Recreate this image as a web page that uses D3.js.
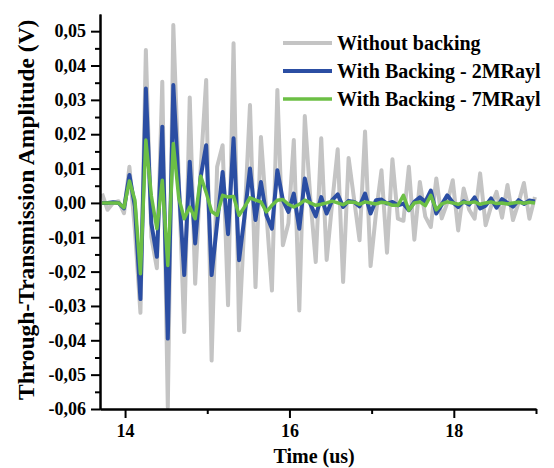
<!DOCTYPE html>
<html>
<head>
<meta charset="utf-8">
<script src="https://cdn.jsdelivr.net/npm/d3@7"></script>
<style>
  body { margin: 0; background: #fff; }
  svg text { font-family: "Liberation Serif", "Times New Roman", serif; font-weight: bold; }
</style>
</head>
<body>
<div id="chart"></div>
<script>
// sample times (us)
const times = [13.720, 13.787, 13.853, 13.920, 13.987, 14.053, 14.120, 14.187, 14.253, 14.320,
  14.387, 14.453, 14.520, 14.587, 14.653, 14.720, 14.787, 14.853, 14.920, 14.987,
  15.053, 15.120, 15.187, 15.253, 15.320, 15.387, 15.453, 15.520, 15.587, 15.653,
  15.720, 15.787, 15.853, 15.920, 15.987, 16.053, 16.120, 16.187, 16.253, 16.320,
  16.387, 16.453, 16.520, 16.587, 16.653, 16.720, 16.787, 16.853, 16.920, 16.987,
  17.053, 17.120, 17.187, 17.253, 17.320, 17.387, 17.453, 17.520, 17.587, 17.653,
  17.720, 17.787, 17.853, 17.920, 17.987, 18.053, 18.120, 18.187, 18.253, 18.320,
  18.387, 18.453, 18.520, 18.587, 18.653, 18.720, 18.787, 18.853, 18.920, 18.987];

// Without backing
const noBacking = [0.0027, -0.002, 0.0, 0.0005, -0.003, 0.0105, -0.008, -0.032, 0.0445, -0.010,
  -0.019, 0.0353, -0.0595, 0.0518, 0.007, -0.0376, 0.0307, -0.0235, 0.010, 0.0358,
  -0.0459, 0.0105, 0.0168, -0.0298, 0.0465, -0.0371, -0.005, 0.0285, -0.0245, 0.0192,
  -0.003, -0.0255, 0.0329, -0.0123, -0.006, 0.0183, -0.0313, 0.0253, 0.0017, -0.0172,
  0.0188, -0.0166, 0.000, 0.0156, -0.023, 0.0131, 0.001, -0.0109, 0.0208, -0.0184,
  -0.003, 0.0095, -0.0145, 0.0127, -0.0046, -0.0052, 0.0105, -0.0107, 0.0061, -0.004,
  -0.007, 0.0071, -0.0045, 0.0, 0.0066, -0.008, 0.0042, -0.002, -0.0046, 0.0086,
  -0.0065, -0.001, 0.0032, -0.0043, 0.0052, -0.005, 0.0, 0.0058, -0.0046, 0.0017];

// With backing 2MRayl
const backing2 = [0.0, 0.0, 0.0002, 0.0, -0.0016, 0.0081, -0.001, -0.028, 0.0333, -0.006,
  -0.0157, 0.0222, -0.0395, 0.0343, 0.005, -0.021, 0.012, -0.0118, 0.0076, 0.0168,
  -0.021, -0.006, 0.009, -0.0091, 0.0188, -0.0167, -0.004, 0.010, -0.005, 0.0061,
  -0.0036, -0.0075, 0.0095, 0.0008, -0.0026, 0.0027, -0.0075, 0.0071, -0.0002, -0.0039,
  0.0017, -0.0031, 0.0008, 0.0025, -0.0012, 0.0006, 0.0003, -0.001, 0.0027, -0.0031,
  0.0008, 0.001, -0.0002, 0.0003, -0.0007, -0.0002, -0.0021, 0.0003, 0.0016, 0.0003,
  0.0036, -0.0031, -0.0005, 0.0022, 0.0002, -0.0012, 0.0005, -0.0005, 0.0016, -0.0016,
  -0.0008, 0.0013, -0.0014, 0.0011, 0.0, -0.0011, 0.0008, -0.0003, 0.0007, 0.0004];

// With backing 7MRayl
const backing7 = [0.0, 0.0, 0.0, 0.0, -0.0014, 0.0064, 0.0008, -0.0206, 0.0183, 0.002,
  -0.0075, 0.0066, -0.0182, 0.0173, 0.0015, -0.0046, -0.0012, -0.0046, 0.0078, 0.003,
  -0.0025, -0.0036, 0.0022, 0.0017, 0.0019, -0.0036, -0.0012, 0.0015, 0.0008, 0.0003,
  -0.0026, -0.0007, 0.0008, 0.001, -0.0004, -0.0012, -0.0004, 0.0008, 0.0, -0.0007,
  -0.0004, 0.0, 0.0005, 0.0, -0.0005, 0.0003, 0.0002, -0.0004, 0.0003, 0.0,
  -0.0003, 0.0002, 0.0, -0.0007, -0.0007, 0.0022, -0.0021, 0.0, 0.0003, -0.0008,
  0.0022, -0.002, -0.0003, 0.0003, 0.0, -0.0004, 0.0002, 0.0, 0.0003, -0.0004,
  0.0, 0.0003, -0.0002, 0.0, -0.0003, 0.0, 0.0002, -0.0001, 0.0002, 0.0];

const seriesNames = ["Without backing", "With Backing - 2MRayl", "With Backing - 7MRayl"];
const seriesColors = ["#c4c4c4", "#2b4ea3", "#6cbf45"];
const seriesValues = [noBacking, backing2, backing7];

const xTicks = [14, 16, 18];
const xMinorTicks = [15, 17, 19];
const yTicks = [-0.06, -0.05, -0.04, -0.03, -0.02, -0.01, 0, 0.01, 0.02, 0.03, 0.04, 0.05];
const yMinorTicks = [-0.055, -0.045, -0.035, -0.025, -0.015, -0.005, 0.005, 0.015, 0.025, 0.035, 0.045];

const W = 554, H = 468;
const margin = { top: 14, right: 18, bottom: 59, left: 100 },
    width = W - margin.left - margin.right,
    height = H - margin.top - margin.bottom;

const svg = d3.select("#chart")
    .append("svg")
    .attr("width", W)
    .attr("height", H)
    .append("g")
    .attr("transform", `translate(${margin.left},${margin.top})`);

const x = d3.scaleLinear().domain([13.695, 19]).range([0, width]);
const y = d3.scaleLinear().domain([-0.06, 0.055]).range([height, 0]);

const fmt = v => d3.format(".2f")(v).replace("−", "-").replace(".", ",");

// lines
const line = d3.line().x((d, i) => x(times[i])).y(d => y(d));
seriesValues.forEach(function (vals, s) {
    svg.append("path")
        .datum(vals)
        .attr("fill", "none")
        .attr("stroke", seriesColors[s])
        .attr("stroke-width", s == 2 ? 3.5 : 4)
        .attr("stroke-linejoin", "round")
        .attr("d", line);
});

// x axis
svg.append("g")
    .attr("transform", `translate(0,${height})`)
    .call(d3.axisBottom(x).tickValues(xTicks).tickSize(9).tickSizeOuter(0).tickPadding(6).tickFormat(d3.format("d")));
svg.append("g")
    .attr("transform", `translate(0,${height})`)
    .call(d3.axisBottom(x).tickValues(xMinorTicks).tickSize(5).tickSizeOuter(0).tickFormat(""));

// y axis
svg.append("g")
    .call(d3.axisLeft(y).tickValues(yTicks).tickSize(9).tickSizeOuter(0).tickPadding(5).tickFormat(fmt));
svg.append("g")
    .call(d3.axisLeft(y).tickValues(yMinorTicks).tickSize(5).tickSizeOuter(0).tickFormat(""));

svg.selectAll(".domain").attr("stroke", "#000").attr("stroke-width", 2);
svg.selectAll(".tick line").attr("stroke", "#000").attr("stroke-width", 2);
svg.selectAll(".tick text").attr("font-size", 18).attr("fill", "#000")
    .style("font-family", "'Liberation Serif', 'Times New Roman', serif").style("font-weight", "bold");

// axis titles
svg.append("text")
    .attr("x", x(16.3))
    .attr("y", height + 54)
    .attr("text-anchor", "middle")
    .attr("font-size", 20)
    .text("Time (us)");

svg.append("text")
    .attr("transform", `translate(${34 - margin.left},${y(-0.002)}) rotate(-90)`)
    .attr("text-anchor", "middle")
    .attr("font-size", 23.5)
    .text("Through-Transmission Amplitude  (V)");

// legend
const legendX = 183, legendY = 29, legendStep = 28;
const legend = svg.selectAll(".legendItem")
    .data(seriesNames)
    .enter()
    .append("g")
    .attr("class", "legendItem")
    .attr("transform", (d, i) => `translate(${legendX},${legendY + i * legendStep})`);

legend.append("line")
    .attr("x1", 0).attr("x2", 49)
    .attr("stroke", (d, i) => seriesColors[i])
    .attr("stroke-width", (d, i) => i == 2 ? 3.5 : 4);

legend.append("text")
    .attr("x", 54)
    .attr("y", 7)
    .attr("font-size", 20)
    .text(d => d);
</script>
</body>
</html>
